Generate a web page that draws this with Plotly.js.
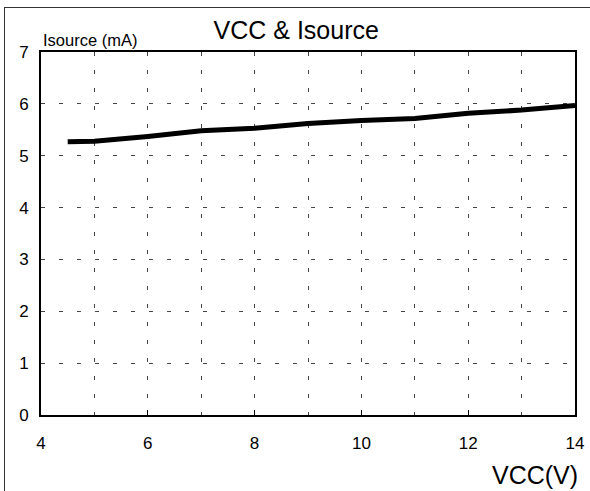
<!DOCTYPE html>
<html>
<head>
<meta charset="utf-8">
<script src="https://cdn.plot.ly/plotly-3.0.1.min.js"></script>
<style>
  html, body { margin: 0; padding: 0; background: #fff; }
  #chart { width: 590px; height: 491px; }
  #frame { position: absolute; left: 4px; top: 7px; width: 600px; height: 500px;
           border-left: 1px solid #333; border-top: 1px solid #333; pointer-events: none; }
</style>
</head>
<body>
<div id="chart"></div>
<div id="frame"></div>
<script>
const vcc = [4.5, 5, 6, 7, 8, 9, 10, 11, 12, 13, 14];
const isource = [5.27, 5.28, 5.37, 5.48, 5.53, 5.62, 5.68, 5.72, 5.82, 5.88, 5.97];
const xTicks = [4, 6, 8, 10, 12, 14];
const yTicks = [0, 1, 2, 3, 4, 5, 6, 7];

const font = 'Liberation Sans, Arial, sans-serif';
const gridColor = '#444';
const gridDash = '4px,14px';

const data = [{
  x: vcc, y: isource, type: 'scatter', mode: 'lines',
  line: { color: '#000', width: 5 }, hoverinfo: 'skip'
}];

const layout = {
  width: 590, height: 491,
  margin: { l: 41, r: 15, t: 52, b: 76 },
  paper_bgcolor: '#fff', plot_bgcolor: '#fff',
  showlegend: false,
  font: { family: font, color: '#000', size: 17 },
  title: {
    text: 'VCC & Isource',
    font: { family: font, size: 25, color: '#000' },
    xref: 'paper', x: 0.478, xanchor: 'center',
    yref: 'container', y: 1 - 30 / 491, yanchor: 'middle'
  },
  xaxis: {
    range: [4, 14], tickvals: xTicks, ticktext: xTicks.map(String),
    showline: true, mirror: true, linecolor: '#000', linewidth: 2,
    ticks: 'inside', ticklen: 5, tickwidth: 1, tickcolor: '#000',
    showgrid: true, gridcolor: gridColor, gridwidth: 1, griddash: gridDash,
    minor: { dtick: 1, tick0: 4, showgrid: true, gridcolor: gridColor, gridwidth: 1, griddash: gridDash, ticks: '' },
    zeroline: false, ticklabelstandoff: 12,
    tickfont: { family: font, size: 17, color: '#000' }
  },
  yaxis: {
    range: [0, 7], tickvals: yTicks, ticktext: yTicks.map(String),
    showline: true, mirror: true, linecolor: '#000', linewidth: 2,
    ticks: '', showgrid: true, gridcolor: gridColor, gridwidth: 1, griddash: gridDash,
    zeroline: false, ticklabelstandoff: 7,
    tickfont: { family: font, size: 17, color: '#000' }
  },
  annotations: [
    { text: 'Isource (mA)', xref: 'paper', yref: 'paper', x: 0, y: 1,
      xanchor: 'left', yanchor: 'bottom', xshift: 0, yshift: 1, showarrow: false,
      font: { family: font, size: 16.5, color: '#000' } },
    { text: 'VCC(V)', xref: 'paper', yref: 'paper', x: 1, y: 0,
      xanchor: 'right', yanchor: 'top', xshift: 5, yshift: -44, showarrow: false,
      font: { family: font, size: 25, color: '#000' } }
  ]
};

Plotly.newPlot('chart', data, layout, { displayModeBar: false, staticPlot: true });
</script>
</body>
</html>
